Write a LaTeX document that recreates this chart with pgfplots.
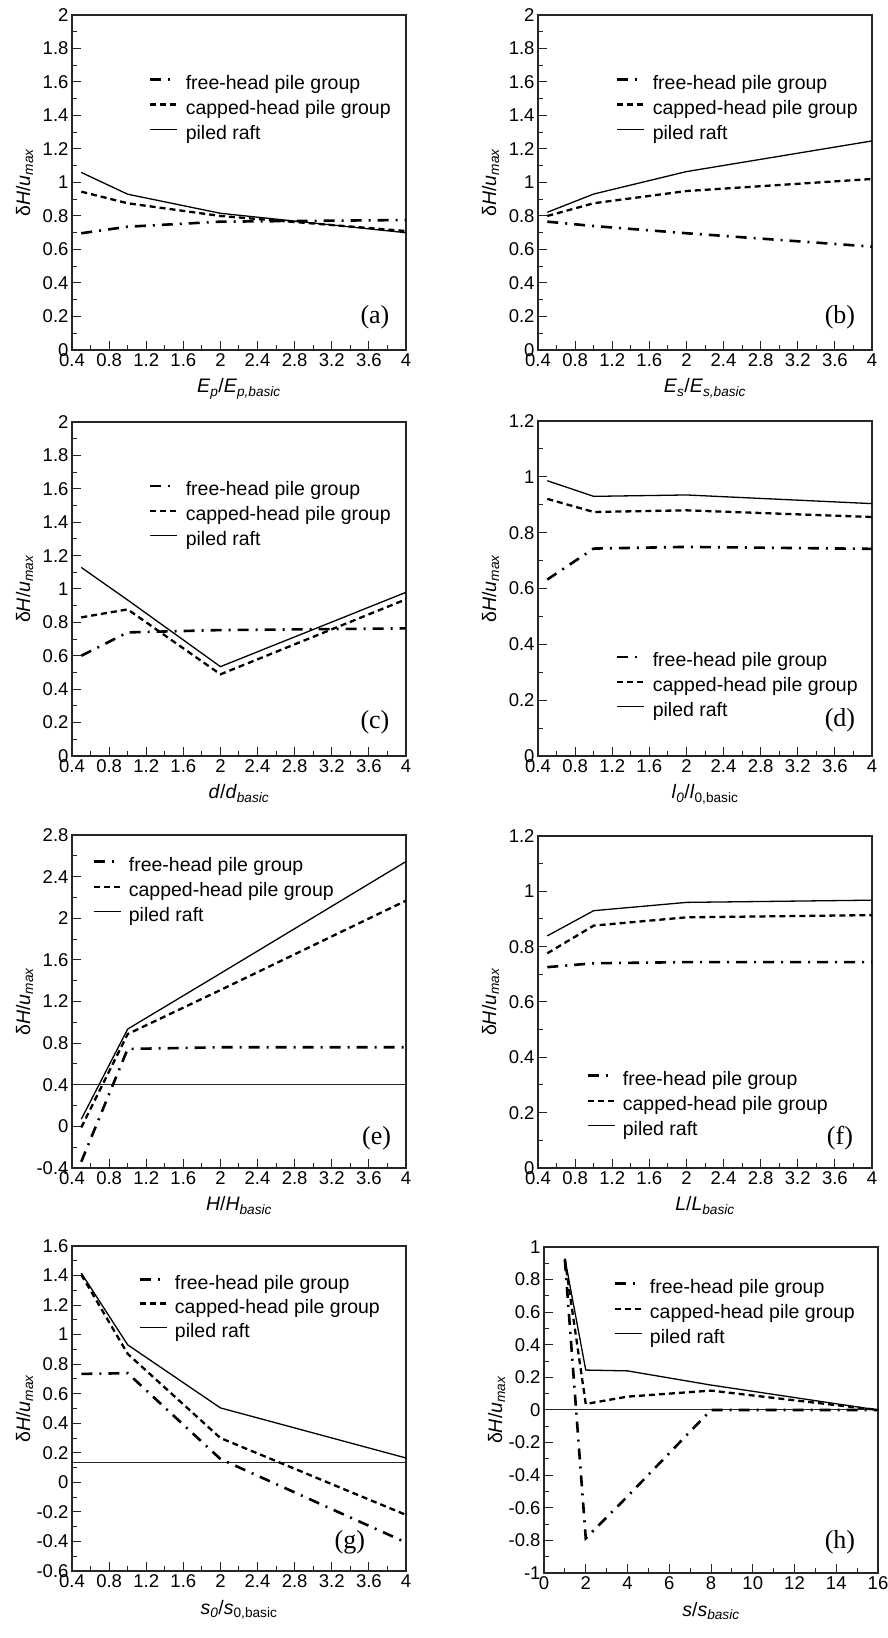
\documentclass[border=0pt]{standalone}
\usepackage{fontspec}
\setmainfont{Liberation Sans}
\newfontfamily\tnr{Liberation Serif}
\usepackage{pgfplots}
\pgfplotsset{compat=1.18}
\newcommand{\fs}{\fontsize{18.5}{22}\selectfont}
\newcommand{\fl}{\fontsize{19.5}{22}\selectfont}
\newcommand{\pl}{\fontsize{26}{28}\selectfont\tnr}
\pgfplotsset{
  panel/.style={
    scale only axis, width=334pt, anchor=south west,
    axis line style={line width=1.1pt, black!85},
    tick align=inside, xtick pos=bottom, ytick pos=left,
    major tick length=9pt, minor tick length=5pt,
    every tick/.style={black!85, line width=1pt},
    minor x tick num=1, minor y tick num=1,
    tick label style={font=\fs},
    /pgf/number format/assume math mode=true,
    label style={font=\fl},
    ylabel={δ\textit{H}/\textit{u}\textsubscript{\textit{max}}},
    ylabel style={at={(axis description cs:-0.142,0.5)}, anchor=center},
    xlabel style={at={(axis description cs:0.5,0)}, yshift=-43pt, anchor=base},
    legend cell align=left,
    legend style={draw=none, fill=none, font=\fl, inner sep=0pt, anchor=north west,
      nodes={inner sep=0pt, text height=14pt, text depth=5pt},
      row sep=6pt, /tikz/every odd column/.append style={column sep=7pt}},
    legend image code/.code={\draw[#1] (0pt,5pt) -- (27pt,5pt);},
  },
  xstd/.style={xmin=0.4, xmax=4, xtick={0.4,0.8,1.2,1.6,2,2.4,2.8,3.2,3.6,4}},
  free/.style={black, line width=2.6pt, dash pattern=on 11pt off 7pt on 2pt off 7pt},
  capped/.style={black, line width=2.3pt, dash pattern=on 6pt off 4pt},
  raft/.style={black, line width=1.3pt},
  refl/.style={black!85, line width=1pt, forget plot},
}
\begin{document}
\begin{tikzpicture}[x=1pt,y=1pt]
\useasboundingbox (0,0) rectangle (888,1638);
% (a)
\begin{axis}[panel, xstd, at={(72pt,1288pt)}, height=335pt,
  ymin=0, ymax=2, ytick={0,0.2,...,2},
  xlabel={\textit{E}\textsubscript{\textit{p}}/\textit{E}\textsubscript{\textit{p,basic}}},
  legend style={at={(rel axis cs:0.2305,0.821)}}]
\addplot[free] coordinates {(0.5,0.697) (1,0.736) (2,0.766) (4,0.776)};
\addplot[capped] coordinates {(0.5,0.945) (1,0.876) (2,0.80) (4,0.71)};
\addplot[raft] coordinates {(0.5,1.06) (1,0.93) (2,0.816) (4,0.70)};
\legend{free-head pile group, capped-head pile group, piled raft}
\node[font=\pl] at (rel axis cs:0.907,0.098) {(a)};
\end{axis}
% (b)
\begin{axis}[panel, xstd, at={(538pt,1288pt)}, height=335pt,
  ymin=0, ymax=2, ytick={0,0.2,...,2},
  xlabel={\textit{E}\textsubscript{\textit{s}}/\textit{E}\textsubscript{\textit{s,basic}}},
  legend style={at={(rel axis cs:0.2335,0.821)}}]
\addplot[free] coordinates {(0.5,0.766) (1,0.74) (2,0.697) (4,0.617)};
\addplot[capped] coordinates {(0.5,0.80) (1,0.876) (2,0.949) (4,1.021)};
\addplot[raft] coordinates {(0.5,0.822) (1,0.931) (2,1.065) (4,1.248)};
\legend{free-head pile group, capped-head pile group, piled raft}
\node[font=\pl] at (rel axis cs:0.904,0.098) {(b)};
\end{axis}
% (c)
\begin{axis}[panel, xstd, at={(72pt,882pt)}, height=334pt,
  ymin=0, ymax=2, ytick={0,0.2,...,2},
  xlabel={\textit{d}/\textit{d}\textsubscript{\textit{basic}}},
  legend style={at={(rel axis cs:0.2305,0.823)}}]
\addplot[free] coordinates {(0.5,0.60) (1,0.74) (2,0.754) (4,0.764)};
\addplot[capped] coordinates {(0.5,0.83) (1,0.878) (2,0.489) (4,0.938)};
\addplot[raft] coordinates {(0.5,1.129) (1,0.934) (2,0.535) (4,0.98)};
\legend{free-head pile group, capped-head pile group, piled raft}
\node[font=\pl] at (rel axis cs:0.907,0.10) {(c)};
\end{axis}
% (d)
\begin{axis}[panel, xstd, at={(538pt,882pt)}, height=335pt,
  ymin=0, ymax=1.2, ytick={0,0.2,...,1.2},
  xlabel={\textit{l}\textsubscript{\textit{0}}/\textit{l}\textsubscript{0,basic}},
  legend style={at={(rel axis cs:0.2335,0.310)}}]
\addplot[free] coordinates {(0.5,0.632) (1,0.743) (2,0.749) (4,0.742)};
\addplot[capped] coordinates {(0.5,0.921) (1,0.874) (2,0.880) (4,0.856)};
\addplot[raft] coordinates {(0.5,0.986) (1,0.930) (2,0.935) (4,0.904)};
\legend{free-head pile group, capped-head pile group, piled raft}
\node[font=\pl] at (rel axis cs:0.904,0.108) {(d)};
\end{axis}
% (e)
\begin{axis}[panel, xstd, at={(72pt,470pt)}, height=333pt,
  ymin=-0.4, ymax=2.8, ytick={-0.4,0,0.4,0.8,1.2,1.6,2,2.4,2.8},
  xlabel={\textit{H}/\textit{H}\textsubscript{\textit{basic}}},
  legend style={at={(rel axis cs:0.060,0.934)}}]
\addplot[refl] coordinates {(0.4,0.4) (4,0.4)};
\addplot[free] coordinates {(0.5,-0.34) (1,0.744) (2,0.76) (4,0.76)};
\addplot[capped] coordinates {(0.5,-0.01) (1,0.887) (2,1.31) (4,2.169)};
\addplot[raft] coordinates {(0.5,0.069) (1,0.935) (2,1.47) (4,2.545)};
\legend{free-head pile group, capped-head pile group, piled raft}
\node[font=\pl] at (rel axis cs:0.912,0.09) {(e)};
\end{axis}
% (f)
\begin{axis}[panel, xstd, at={(538pt,470pt)}, height=332pt,
  ymin=0, ymax=1.2, ytick={0,0.2,...,1.2},
  xlabel={\textit{L}/\textit{L}\textsubscript{\textit{basic}}},
  legend style={at={(rel axis cs:0.144,0.292)}}]
\addplot[free] coordinates {(0.5,0.726) (1,0.74) (2,0.744) (4,0.744)};
\addplot[capped] coordinates {(0.5,0.776) (1,0.876) (2,0.906) (4,0.914)};
\addplot[raft] coordinates {(0.5,0.839) (1,0.930) (2,0.96) (4,0.968)};
\legend{free-head pile group, capped-head pile group, piled raft}
\node[font=\pl] at (rel axis cs:0.904,0.09) {(f)};
\end{axis}
% (g)
\begin{axis}[panel, xstd, at={(72pt,67pt)}, height=325pt,
  ymin=-0.6, ymax=1.6, ytick={-0.6,-0.4,-0.2,0,0.2,0.4,0.6,0.8,1,1.2,1.4,1.6},
  xlabel={\textit{s}\textsubscript{\textit{0}}/\textit{s}\textsubscript{0,basic}},
  legend style={at={(rel axis cs:0.198,0.911)}, row sep=5pt}]
\addplot[refl] coordinates {(0.4,0.136) (4,0.136)};
\addplot[free] coordinates {(0.5,0.734) (1,0.739) (2,0.158) (4,-0.407)};
\addplot[capped] coordinates {(0.5,1.406) (1,0.87) (2,0.30) (4,-0.22)};
\addplot[raft] coordinates {(0.5,1.417) (1,0.931) (2,0.504) (4,0.165)};
\legend{free-head pile group, capped-head pile group, piled raft}
\node[font=\pl] at (rel axis cs:0.832,0.089) {(g)};
\end{axis}
% (h)
\begin{axis}[panel, at={(544pt,65pt)}, height=326pt,
  xmin=0, xmax=16, xtick={0,2,...,16},
  ymin=-1, ymax=1, ytick={-1,-0.8,-0.6,-0.4,-0.2,0,0.2,0.4,0.6,0.8,1},
  xlabel={\textit{s}/\textit{s}\textsubscript{\textit{basic}}},
  legend style={at={(rel axis cs:0.207,0.902)}}]
\addplot[refl] coordinates {(0,0) (16,0)};
\addplot[free] coordinates {(1,0.92) (2,-0.787) (4,-0.53) (8,0) (16,0)};
\addplot[capped] coordinates {(1,0.924) (2,0.037) (4,0.082) (8,0.119) (16,0)};
\addplot[raft] coordinates {(1,0.93) (2,0.245) (4,0.24) (8,0.153) (16,0)};
\legend{free-head pile group, capped-head pile group, piled raft}
\node[font=\pl] at (rel axis cs:0.886,0.095) {(h)};
\end{axis}
\end{tikzpicture}
\end{document}
